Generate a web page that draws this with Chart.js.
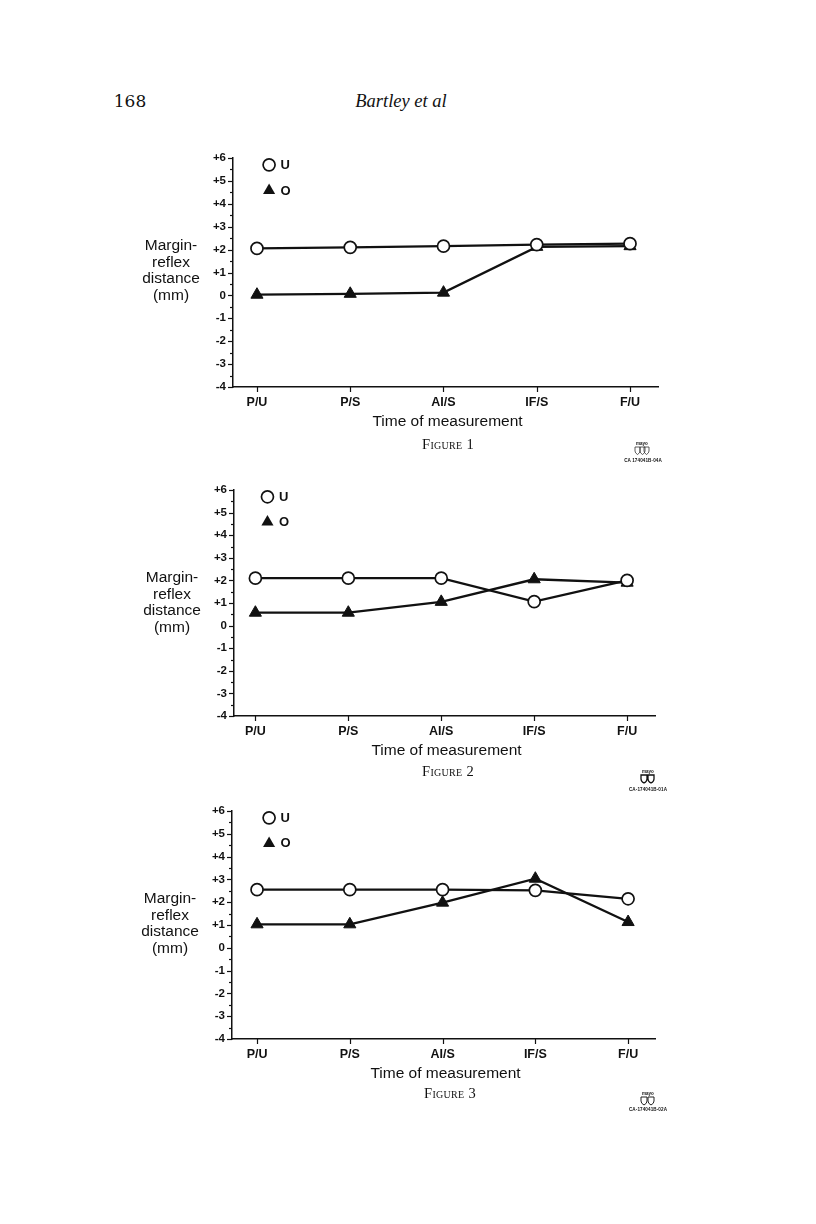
<!DOCTYPE html>
<html><head><meta charset="utf-8">
<script src="https://cdn.jsdelivr.net/npm/chart.js@4.4.1/dist/chart.umd.min.js"></script>
<style>
html,body{margin:0;padding:0;background:#fff}
body{width:816px;height:1224px;position:relative;overflow:hidden}
canvas{position:absolute;left:0}
.t{position:absolute;white-space:nowrap;color:#111;transform:translate(-50%,-50%);line-height:1}
.cap{font-family:'Liberation Serif',serif;font-variant:small-caps;font-size:14.5px;letter-spacing:0.3px}
.code{font-family:'Liberation Sans',Arial,sans-serif;font-size:4.6px;font-weight:bold;letter-spacing:0.1px}
.mayo{font-family:'Liberation Sans',Arial,sans-serif;font-size:4.5px;font-weight:bold}
</style></head><body>

<div class="t" style="left:130px;top:101px;font:17px 'DejaVu Serif',serif">168</div>
<div class="t" style="left:401px;top:101px;font:italic 18.5px 'Liberation Serif',serif">Bartley et al</div>

<canvas id="f1"></canvas>
<canvas id="f2"></canvas>
<canvas id="f3"></canvas>

<div class="t cap" style="left:448px;top:444px">Figure 1</div>
<div class="t cap" style="left:448px;top:771px">Figure 2</div>
<div class="t cap" style="left:450px;top:1093px">Figure 3</div>

<div class="t mayo" style="left:642px;top:444px">mayo</div>
<svg style="position:absolute;left:634px;top:446px" width="16" height="9" viewBox="0 0 16 9"><path d="M1 1h5v4q0 2-2.5 3.5Q1 7 1 5z M6 1h5v4q0 2-2.5 3.5Q6 7 6 5z M10 1h5v4q0 2-2.5 3.5Q10 7 10 5z" fill="none" stroke="#333" stroke-width="0.8"/></svg>
<div class="t code" style="left:643px;top:461px">CA 174041B-04A</div>

<div class="t mayo" style="left:648px;top:772px">mayo</div>
<svg style="position:absolute;left:640px;top:774px" width="16" height="10" viewBox="0 0 16 10"><path d="M1 1h6v4q0 2.5-3 4Q1 7.5 1 5z M8 1h6v4q0 2.5-3 4Q8 7.5 8 5z" fill="none" stroke="#111" stroke-width="1.3"/></svg>
<div class="t code" style="left:648px;top:790px">CA-174041B-01A</div>

<div class="t mayo" style="left:648px;top:1094px">mayo</div>
<svg style="position:absolute;left:640px;top:1096px" width="16" height="10" viewBox="0 0 16 10"><path d="M1 1h6v4q0 2.5-3 4Q1 7.5 1 5z M8 1h6v4q0 2.5-3 4Q8 7.5 8 5z" fill="none" stroke="#222" stroke-width="1"/></svg>
<div class="t code" style="left:648px;top:1110px">CA-174041B-02A</div>

<script>
// ---- data ----
const categories = ['P/U', 'P/S', 'AI/S', 'IF/S', 'F/U'];
const yTickValues = [-4, -3, -2, -1, 0, 1, 2, 3, 4, 5, 6];
const yTickLabels = ['-4', '-3', '-2', '-1', '0', '+1', '+2', '+3', '+4', '+5', '+6'];
const seriesLabels = ['U', 'O'];
const yTitleLines = ['Margin-', 'reflex', 'distance', '(mm)'];
const xTitle = 'Time of measurement';

const fig1U = [2.05, 2.10, 2.15, 2.22, 2.26];
const fig1O = [0.03, 0.07, 0.12, 2.12, 2.15];
const fig2U = [2.10, 2.10, 2.10, 1.06, 2.00];
const fig2O = [0.57, 0.57, 1.05, 2.05, 1.90];
const fig3U = [2.55, 2.55, 2.55, 2.52, 2.15];
const fig3O = [1.03, 1.03, 1.98, 3.03, 1.13];
const legendValues = [5.7, 4.58];
const legendXValue = 0.13;

const INK = '#111';
const SANS = "'Liberation Sans', Arial, Helvetica, sans-serif";

const decor = {
  id: 'decor',
  afterDraw(chart) {
    const ctx = chart.ctx, a = chart.chartArea;
    const xs = chart.scales.x, ys = chart.scales.y;
    ctx.save();
    ctx.strokeStyle = INK; ctx.fillStyle = INK; ctx.lineWidth = 1.2;
    for (let v = -4; v <= 6.001; v += 0.5) {
      const py = Math.round(ys.getPixelForValue(v)) + 0.5;
      const len = Math.abs(v - Math.round(v)) < 1e-6 ? 5 : 3;
      ctx.beginPath(); ctx.moveTo(a.left - len, py); ctx.lineTo(a.left, py); ctx.stroke();
    }
    categories.forEach((c, i) => {
      const px = Math.round(xs.getPixelForValue(i)) + 0.5;
      ctx.beginPath(); ctx.moveTo(px, a.bottom); ctx.lineTo(px, a.bottom + 5); ctx.stroke();
    });
    ctx.font = '15.5px ' + SANS;
    ctx.textAlign = 'center'; ctx.textBaseline = 'middle';
    yTitleLines.forEach((s, k) => ctx.fillText(s, a.left - 62, a.top + 88 + k * 16.6));
    ctx.fillText(xTitle, (a.left + a.right) / 2 + 2, a.bottom + 35);
    ctx.font = 'bold 13px ' + SANS;
    ctx.textAlign = 'left';
    const lx = xs.getPixelForValue(legendXValue);
    chart.data.datasets.forEach((ds, k) => {
      const ly = ys.getPixelForValue(legendValues[k]);
      ctx.beginPath();
      if (ds.pointStyle === 'circle') {
        ctx.arc(lx, ly, ds.pointRadius, 0, Math.PI * 2);
        ctx.fillStyle = '#fff'; ctx.fill();
        ctx.lineWidth = ds.pointBorderWidth; ctx.strokeStyle = INK; ctx.stroke();
      } else {
        const r = ds.pointRadius;
        ctx.moveTo(lx, ly - r);
        ctx.lineTo(lx + r * 0.866, ly + r / 2);
        ctx.lineTo(lx - r * 0.866, ly + r / 2);
        ctx.closePath();
        ctx.fillStyle = INK; ctx.fill();
      }
      ctx.fillStyle = INK;
      ctx.fillText(ds.label, lx + 11.5, ly + 0.5);
    });
    ctx.restore();
  }
};

function makeFig(id, g, u, o) {
  const cv = document.getElementById(id);
  const cTop = g.top - 20;
  const H = g.bottom - cTop + 60;
  cv.width = 816; cv.height = H;
  cv.style.top = cTop + 'px'; cv.style.width = '816px'; cv.style.height = H + 'px';
  new Chart(cv.getContext('2d'), {
    type: 'line',
    data: {
      datasets: [
        { label: seriesLabels[0], data: u.map((v, i) => ({ x: i, y: v })),
          borderColor: INK, borderWidth: 2.3, tension: 0,
          pointStyle: 'circle', pointRadius: 6, pointBackgroundColor: '#fff',
          pointBorderColor: INK, pointBorderWidth: 1.7 },
        { label: seriesLabels[1], data: o.map((v, i) => ({ x: i, y: v })),
          borderColor: INK, borderWidth: 2.3, tension: 0,
          pointStyle: 'triangle', pointRadius: 7, pointBackgroundColor: INK,
          pointBorderColor: INK, pointBorderWidth: 1 }
      ]
    },
    options: {
      responsive: false, animation: false, devicePixelRatio: 1,
      layout: { padding: { top: 20, left: 0, right: 816 - g.right, bottom: 0 } },
      plugins: { legend: { display: false }, tooltip: { enabled: false } },
      scales: {
        x: {
          type: 'linear', min: g.xMin, max: g.xMax,
          afterBuildTicks: s => { s.ticks = categories.map((c, i) => ({ value: i })); },
          afterFit: s => { s.height = 60; },
          ticks: { callback: v => categories[v], color: INK, padding: 8, autoSkip: false, maxRotation: 0,
                   font: { family: SANS, size: 12.5, weight: 'bold' } },
          grid: { display: false, drawTicks: false },
          border: { display: true, color: INK, width: 1.5 }
        },
        y: {
          min: -4, max: 6,
          afterBuildTicks: s => { s.ticks = yTickValues.map(v => ({ value: v })); },
          afterFit: s => { s.width = g.left; },
          ticks: { callback: v => yTickLabels[yTickValues.indexOf(v)], color: INK, padding: 7,
                   font: { family: SANS, size: 11.5, weight: 'bold' } },
          grid: { display: false, drawTicks: false },
          border: { display: true, color: INK, width: 1.5 }
        }
      }
    },
    plugins: [decor]
  });
}

makeFig('f1', { left: 233, right: 658, top: 158, bottom: 387, xMin: -0.257, xMax: 4.3 }, fig1U, fig1O);
makeFig('f2', { left: 234, right: 655, top: 490, bottom: 716, xMin: -0.23, xMax: 4.3 }, fig2U, fig2O);
makeFig('f3', { left: 232, right: 655, top: 811, bottom: 1039, xMin: -0.27, xMax: 4.29 }, fig3U, fig3O);
</script>
</body></html>
